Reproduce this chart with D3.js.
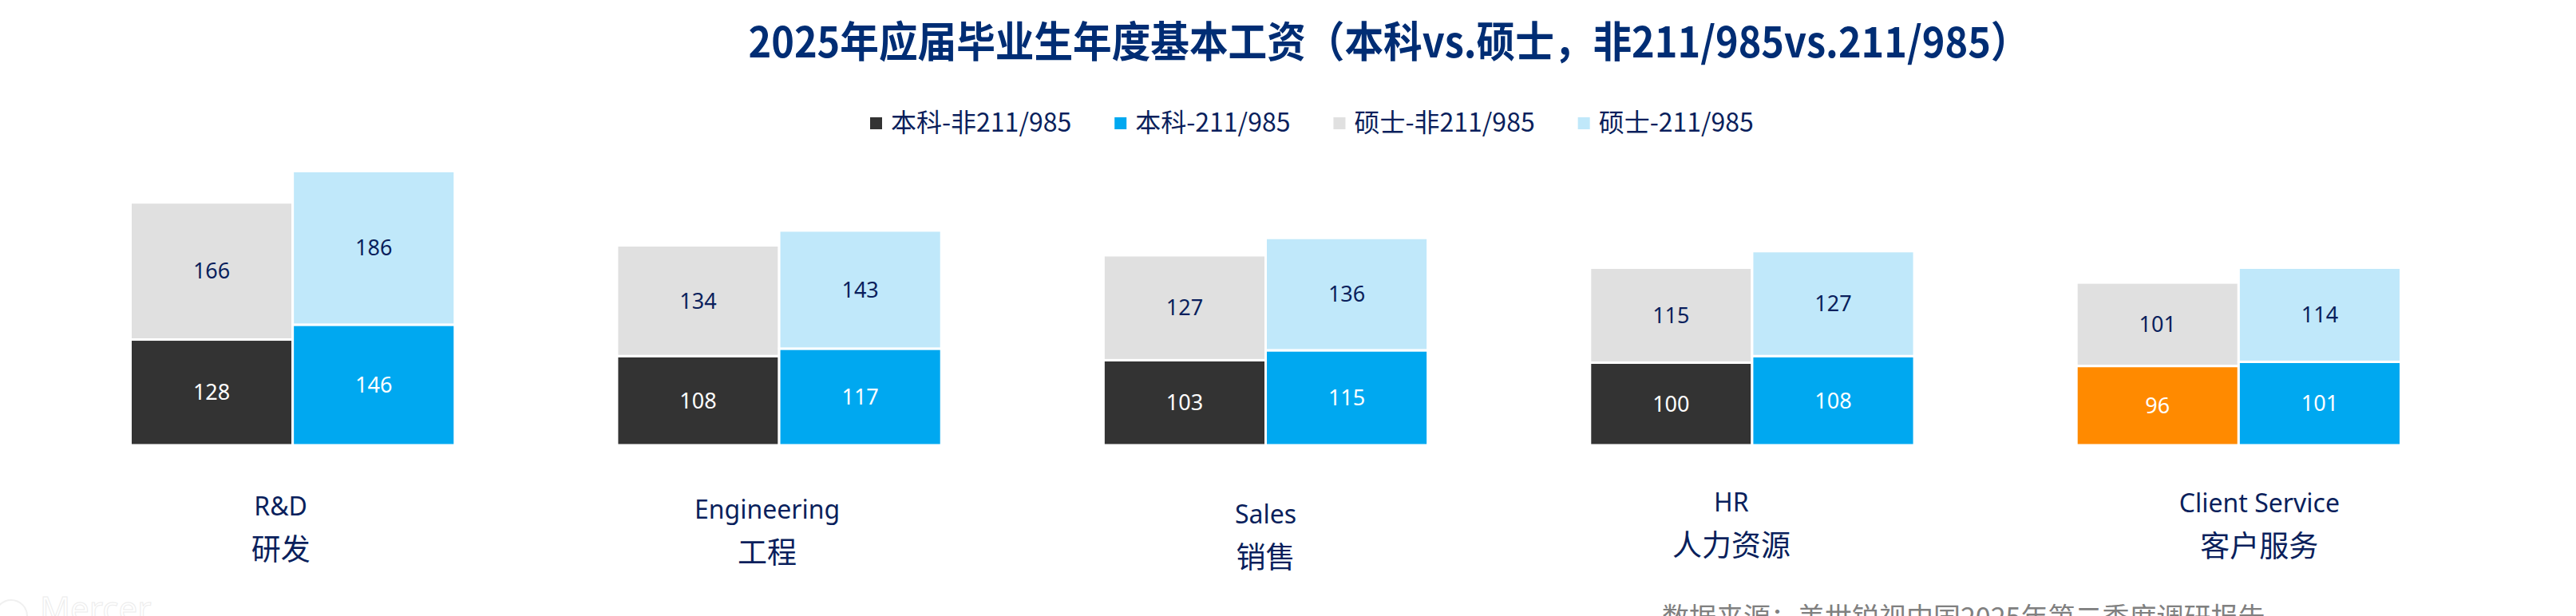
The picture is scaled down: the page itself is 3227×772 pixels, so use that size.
<!DOCTYPE html>
<html>
<head>
<meta charset="utf-8">
<script src="https://cdn.jsdelivr.net/npm/d3@7"></script>
<style>
	html, body { margin: 0; padding: 0; background: #ffffff; }
	svg { display: block; }
</style>
</head>
<body>
<div id="chart"></div>
<script>
// chart data
const categories = ["R&D", "Engineering", "Sales", "HR", "Client Service"];
const categoriesCn = ["研发", "工程", "销售", "人力资源", "客户服务"];
const seriesNames = ["本科-非211/985", "本科-211/985", "硕士-非211/985", "硕士-211/985"];
const bachelorNon = [128, 108, 103, 100, 96];
const bachelor211 = [146, 117, 115, 108, 101];
const masterNon = [166, 134, 127, 115, 101];
const master211 = [186, 143, 136, 127, 114];

const titleText = "2025年应届毕业生年度基本工资（本科vs.硕士，非211/985vs.211/985）";
const sourceText = "数据来源：美世锐视中国2025年第二季度调研报告";

// styling
const width = 3227, height = 772;
const colors = ["#333333", "#00a8f0", "#e0e0e0", "#c0e8fa"];
const highlightColor = "#ff8a00";        // 客户服务 本科-非211/985 is drawn orange
const highlight = {cat: "Client Service", key: seriesNames[0]};
const navy = "#0a1f5c";
const titleBlue = "#002d74";
const cnFont = "'Noto Sans CJK SC', 'Noto Sans', sans-serif";
const latinFont = "'Noto Sans', 'Noto Sans CJK SC', sans-serif";
// the category captions sit a little off-centre in the original
const labelNudge = [[-15, -4], [-15, 0], [0, 6], [-26, -9], [26, -8]];

const svg = d3.select("#chart").append("svg")
	.attr("width", width)
	.attr("height", height);

// title: the original uses a tall condensed bold face, so squeeze it to its width
svg.append("text")
	.attr("x", 1740)
	.attr("y", 72)
	.attr("text-anchor", "middle")
	.attr("textLength", 1605)
	.attr("lengthAdjust", "spacingAndGlyphs")
	.style("font-family", cnFont)
	.style("font-weight", 700)
	.style("font-size", "53px")
	.attr("fill", titleBlue)
	.text(titleText);

// legend
let lx = 1090;
const legend = svg.append("g").attr("class", "legend");
seriesNames.forEach(function(name, i) {
	legend.append("rect")
		.attr("x", lx)
		.attr("y", 147)
		.attr("width", 15)
		.attr("height", 15)
		.attr("fill", colors[i]);
	const t = legend.append("text")
		.attr("x", lx + 26)
		.attr("y", 165)
		.style("font-family", cnFont)
		.style("font-size", "32px")
		.attr("fill", navy)
		.text(name);
	lx += 26 + t.node().getComputedTextLength() + 54;
});

// stacked columns
const rows = categories.map(function(c, i) {
	const r = {cat: c};
	r[seriesNames[0]] = bachelorNon[i];
	r[seriesNames[1]] = bachelor211[i];
	r[seriesNames[2]] = masterNon[i];
	r[seriesNames[3]] = master211[i];
	return r;
});

const columns = [
	{id: "non", keys: [seriesNames[0], seriesNames[2]]},
	{id: "211", keys: [seriesNames[1], seriesNames[3]]}
];

const maxTotal = d3.max(rows, function(r) {
	return Math.max(r[seriesNames[0]] + r[seriesNames[2]], r[seriesNames[1]] + r[seriesNames[3]]);
});

const x0 = d3.scaleBand()
	.domain(categories)
	.range([163.5, 3007.5])
	.paddingInner(1 / 3)
	.paddingOuter(0);

const x1 = d3.scaleBand()
	.domain(columns.map(function(c) { return c.id; }))
	.range([0, x0.bandwidth()]);

const y = d3.scaleLinear()
	.domain([0, maxTotal])
	.range([558, 558 - 1.035 * maxTotal]);

const plot = svg.append("g").attr("class", "bars");

columns.forEach(function(col) {
	const stacked = d3.stack().keys(col.keys)(rows);
	stacked.forEach(function(layer) {
		const sIdx = seriesNames.indexOf(layer.key);
		const light = sIdx >= 2;
		const g = plot.append("g").attr("class", "layer");

		g.selectAll("rect")
			.data(layer)
			.enter().append("rect")
			.attr("x", function(d) { return x0(d.data.cat) + x1(col.id); })
			.attr("y", function(d) { return y(d[1]); })
			.attr("width", x1.bandwidth())
			.attr("height", function(d) { return y(d[0]) - y(d[1]); })
			.attr("fill", function(d) {
				return (d.data.cat === highlight.cat && layer.key === highlight.key) ? highlightColor : colors[sIdx];
			})
			.attr("stroke", "#ffffff")
			.attr("stroke-width", 3);

		g.selectAll("text")
			.data(layer)
			.enter().append("text")
			.attr("x", function(d) { return x0(d.data.cat) + x1(col.id) + x1.bandwidth() / 2; })
			.attr("y", function(d) { return (y(d[0]) + y(d[1])) / 2; })
			.attr("dy", "0.36em")
			.attr("text-anchor", "middle")
			.style("font-family", latinFont)
			.style("font-size", "27px")
			.attr("fill", light ? navy : "#ffffff")
			.text(function(d) { return d[1] - d[0]; });
	});
});

// category captions
const caps = svg.append("g").attr("class", "captions");
categories.forEach(function(c, i) {
	const cx = x0(c) + x0.bandwidth() / 2 + labelNudge[i][0];
	caps.append("text")
		.attr("x", cx)
		.attr("y", 650 + labelNudge[i][1])
		.attr("text-anchor", "middle")
		.style("font-family", latinFont)
		.style("font-size", "32px")
		.attr("fill", navy)
		.text(c);
	caps.append("text")
		.attr("x", cx)
		.attr("y", 706 + labelNudge[i][1])
		.attr("text-anchor", "middle")
		.style("font-family", cnFont)
		.style("font-size", "37px")
		.attr("fill", navy)
		.text(categoriesCn[i]);
});

// source note (cut by the bottom edge in the original)
svg.append("text")
	.attr("x", 2082)
	.attr("y", 786)
	.style("font-family", cnFont)
	.style("font-size", "34px")
	.attr("fill", "#808080")
	.text(sourceText);

// faint watermark
svg.append("circle")
	.attr("cx", 14)
	.attr("cy", 772)
	.attr("r", 20)
	.attr("fill", "none")
	.attr("stroke", "#f0f0f0")
	.attr("stroke-width", 2);
svg.append("text")
	.attr("x", 50)
	.attr("y", 778)
	.style("font-family", latinFont)
	.style("font-size", "42px")
	.attr("fill", "#ffffff")
	.attr("stroke", "#ececec")
	.attr("stroke-width", 1)
	.text("Mercer");
</script>
</body>
</html>
